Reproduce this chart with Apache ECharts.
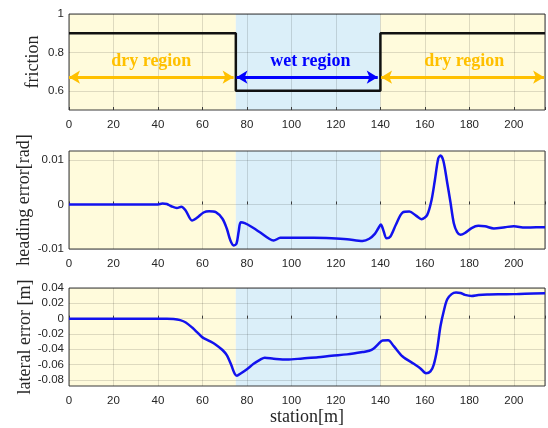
<!DOCTYPE html>
<html><head><meta charset="utf-8">
<script src="https://cdn.jsdelivr.net/npm/echarts@6/dist/echarts.min.js"></script>
<style>html,body{margin:0;padding:0;background:#fff}#c{width:548px;height:428px}</style>
</head><body><div id="c"></div>
<script>
// ---- data ----
const xTicks = [0, 20, 40, 60, 80, 100, 120, 140, 160, 180, 200];
const regions = [[0, 75, 'dry'], [75, 140, 'wet'], [140, 214, 'dry']];
const frictionX = [0, 75, 75, 140, 140, 214];
const frictionY = [0.9, 0.9, 0.6, 0.6, 0.9, 0.9];
const headingX = [0,40,42,44,46,48.5,50.5,52.5,55.3,57.5,60.5,63,66,69,71,72.5,74,75.3,76.3,77.2,79,82,86,90,92,95,100,110,118,125,132,135,137.5,139,140.2,141.2,142.8,144.5,147,150,153,156,158.5,161,163,164.5,166,167,168.3,170,171.5,173,174.5,176,178,181,184,187,191,196,200,205,210,214];
const headingY = [0,0,0.0002,0.0001,-0.0004,-0.0008,-0.0005,-0.0014,-0.0036,-0.003,-0.0018,-0.0015,-0.0017,-0.0032,-0.0055,-0.008,-0.0092,-0.0088,-0.006,-0.004,-0.0042,-0.005,-0.0063,-0.0077,-0.0081,-0.0075,-0.0075,-0.0075,-0.0076,-0.0078,-0.0082,-0.0077,-0.0066,-0.0054,-0.0045,-0.0056,-0.0076,-0.0072,-0.0045,-0.0018,-0.0016,-0.0025,-0.0033,-0.0024,0.001,0.0055,0.0103,0.011,0.0098,0.005,0.0005,-0.0042,-0.0062,-0.0068,-0.0064,-0.0053,-0.0048,-0.0049,-0.0054,-0.0051,-0.0049,-0.0052,-0.0051,-0.0051];
const lateralX = [0,44,47,50,52.5,55.5,58,60,63,66,69,71,73,74.5,75.5,77,80,83,86,88,92,98,105,112,118,125,132,135,137,139,141,143.5,146,150,155,158,160.5,162.5,164,165.5,167,168.5,170,172,174,176,178,181,184,188,195,200,205,214];
const lateralY = [0,0,-0.0004,-0.002,-0.005,-0.012,-0.019,-0.0245,-0.029,-0.034,-0.041,-0.048,-0.061,-0.072,-0.0745,-0.072,-0.066,-0.059,-0.0535,-0.051,-0.0523,-0.0535,-0.052,-0.0505,-0.0485,-0.0467,-0.0437,-0.042,-0.039,-0.0335,-0.0285,-0.0283,-0.036,-0.0495,-0.059,-0.065,-0.0713,-0.069,-0.06,-0.04,-0.01,0.01,0.025,0.032,0.034,0.0335,0.031,0.0296,0.0308,0.0315,0.0318,0.032,0.0326,0.0331];
const frictionTicks = [0.6, 0.8, 1];
const headingTicks = [-0.01, 0, 0.01];
const lateralTicks = [-0.08, -0.06, -0.04, -0.02, 0, 0.02, 0.04];
// annotations
const arrows = [[0, 74, 0.671, 'dry'], [75.3, 138.8, 0.671, 'wet'], [140.3, 213.6, 0.671, 'dry']];
const labels = [[37, 0.752, 'dry region', 'dry'], [108.5, 0.752, 'wet region', 'wet'], [177.7, 0.752, 'dry region', 'dry']];

// ---- styles ----
const C = {dry: '#fffbdc', wet: '#dbeff9', grid: 'rgba(0,0,0,0.13)', text: '#262626',
  line: '#1212ee', dryTxt: '#ffc000', wetTxt: '#0000ff'};
const grids = [
  {left: 69, right: 0, top: 14, height: 96},
  {left: 69, right: 0, top: 151, height: 98},
  {left: 69, right: 0, top: 288, height: 98}
];
const zip = (a, b) => a.map((v, i) => [v, b[i]]);
const near = (v, list) => list.some(t => Math.abs(t - v) < 1e-9);
const fmt = v => String(+v.toFixed(4));
const T = 'rgba(0,0,0,0)';

const yDefs = [
  {min: 0.5, max: 1, interval: 0.1, ticks: frictionTicks, name: 'friction', gap: 27,
    colors: [T, C.grid]},
  {min: -0.01, max: 0.012, interval: 0.002, ticks: headingTicks, name: 'heading error[rad]', gap: 36,
    colors: [C.grid, T, T, T, T]},
  {min: -0.088, max: 0.04, interval: 0.002, ticks: lateralTicks, name: 'lateral error [m]', gap: 35,
    colors: [T, T, T, T, C.grid, T, T, T, T, T]}
];

const option = {
  animation: false,
  backgroundColor: '#fff',
  grid: grids.map(g => Object.assign({show: true, borderColor: '#3a3a3a', borderWidth: 1,
    backgroundColor: T, z: 1}, g)),
  xAxis: grids.map((g, i) => ({
    type: 'value', gridIndex: i, min: 0, max: 214, interval: 20, z: 1,
    axisLine: {show: false},
    axisTick: {show: true, inside: true, length: 3, lineStyle: {color: '#3a3a3a'}},
    axisLabel: {margin: 9, color: C.text, fontFamily: 'Liberation Sans', fontSize: 11.5,
      formatter: v => near(v, xTicks) ? fmt(v) : ''},
    splitLine: {show: true, lineStyle: {color: C.grid, width: 1}},
    name: i === 2 ? 'station[m]' : '', nameLocation: 'middle', nameGap: 22, nameMoveOverlap: false,
    nameTextStyle: {fontFamily: 'Liberation Serif', fontSize: 18, color: C.text}
  })),
  yAxis: yDefs.map((d, i) => ({
    type: 'value', gridIndex: i, min: d.min, max: d.max, interval: d.interval, z: 1,
    axisLine: {show: false}, axisTick: {show: false},
    axisLabel: {margin: 5, color: C.text, fontFamily: 'Liberation Sans', fontSize: 11.5,
      formatter: v => near(v, d.ticks) ? fmt(v) : ''},
    splitLine: {show: true, lineStyle: {color: d.colors, width: 1}},
    name: d.name, nameLocation: 'middle', nameGap: d.gap, nameRotate: 90, nameMoveOverlap: false,
    nameTextStyle: {fontFamily: 'Liberation Serif', fontSize: 18, color: C.text}
  })),
  series: [
    ...[0, 1, 2].map(i => ({
      type: 'custom', xAxisIndex: i, yAxisIndex: i, z: 0, silent: true,
      data: regions, encode: {x: [0, 1]},
      renderItem: (params, api) => {
        const cs = params.coordSys;
        const xa = api.coord([api.value(0), yDefs[i].min])[0];
        const xb = api.coord([api.value(1), yDefs[i].min])[0];
        return {type: 'rect', shape: {x: xa, y: cs.y, width: xb - xa, height: cs.height},
          style: {fill: regions[params.dataIndex][2] === 'wet' ? C.wet : C.dry}};
      }
    })),
    {
      type: 'line', xAxisIndex: 0, yAxisIndex: 0, z: 3, symbol: 'none',
      data: zip(frictionX, frictionY), lineStyle: {color: '#111', width: 2.5},
      markLine: {
        silent: true, symbol: ['arrow', 'arrow'], symbolSize: [10, 11],
        label: {show: false},
        data: arrows.map(a => [
          {coord: [a[0], a[2]], lineStyle: {color: a[3] === 'wet' ? C.wetTxt : C.dryTxt, width: 3, type: 'solid'},
            itemStyle: {color: a[3] === 'wet' ? C.wetTxt : C.dryTxt}},
          {coord: [a[1], a[2]]}
        ])
      },
      markPoint: {
        silent: true,
        data: labels.map(l => ({
          coord: [l[0], l[1]], symbol: 'circle', symbolSize: 0,
          label: {show: true, position: 'inside', formatter: l[2], fontFamily: 'Liberation Serif',
            fontWeight: 'bold', fontSize: 18, color: l[3] === 'wet' ? C.wetTxt : C.dryTxt}
        }))
      }
    },
    {
      type: 'line', xAxisIndex: 1, yAxisIndex: 1, z: 3, symbol: 'none', smooth: 0.3,
      data: zip(headingX, headingY), lineStyle: {color: C.line, width: 2.5}
    },
    {
      type: 'line', xAxisIndex: 2, yAxisIndex: 2, z: 3, symbol: 'none', smooth: 0.3,
      data: zip(lateralX, lateralY), lineStyle: {color: C.line, width: 2.5}
    }
  ]
};
const chart = echarts.init(document.getElementById('c'), null, {renderer: 'canvas'});
chart.setOption(option);
</script></body></html>
